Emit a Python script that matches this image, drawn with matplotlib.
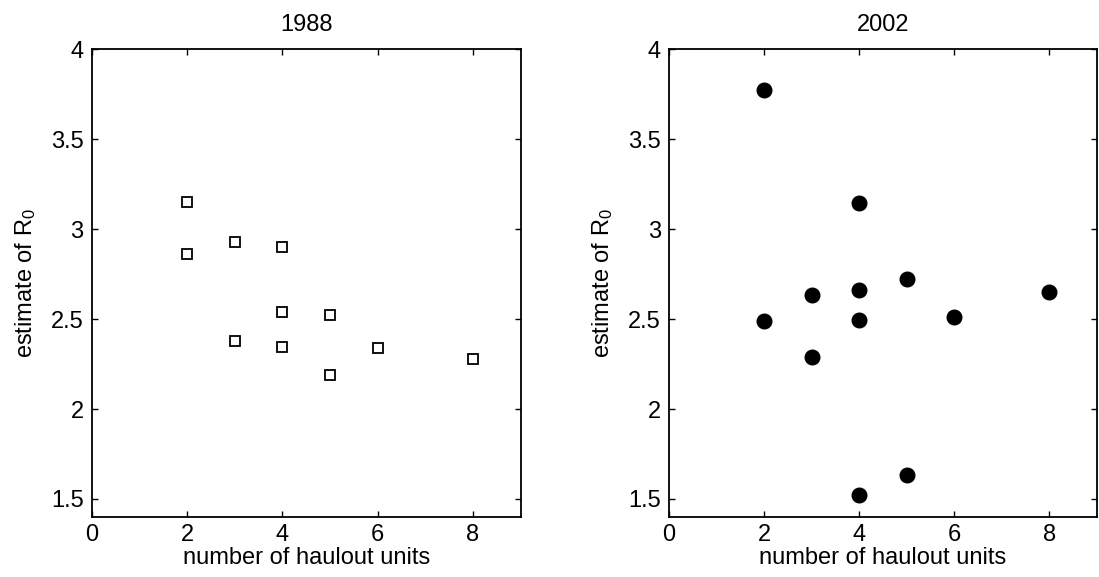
import matplotlib
matplotlib.use("Agg")
import matplotlib.pyplot as plt
from matplotlib.ticker import FuncFormatter

plt.rcParams['font.family'] = ['Liberation Sans', 'DejaVu Sans']
plt.rcParams['mathtext.fontset'] = 'custom'
plt.rcParams['mathtext.rm'] = 'Liberation Sans'
plt.rcParams['mathtext.it'] = 'Liberation Sans'

# 1988 data
x_1988 = [2, 2, 3, 3, 4, 4, 4, 5, 5, 6, 8]
r0_1988 = [3.15, 2.86, 2.93, 2.38, 2.90, 2.54, 2.345, 2.52, 2.19, 2.34, 2.28]

# 2002 data
x_2002 = [2, 2, 3, 3, 4, 4, 4, 4, 5, 5, 6, 8]
r0_2002 = [3.77, 2.49, 2.635, 2.29, 3.145, 2.66, 2.495, 1.52, 2.72, 1.635, 2.51, 2.65]

titles = ["1988", "2002"]
xticks = [0, 2, 4, 6, 8]
yticks = [1.5, 2, 2.5, 3, 3.5, 4]

fig = plt.figure(figsize=(10.99, 5.77), dpi=100)
ax1 = fig.add_axes([0.0837, 0.104, 0.390, 0.811])
ax2 = fig.add_axes([0.6088, 0.104, 0.389, 0.811])

ax1.plot(x_1988, r0_1988, linestyle='none', marker='s', markersize=7.5,
         markerfacecolor='white', markeredgecolor='black', markeredgewidth=1.3)
ax2.plot(x_2002, r0_2002, linestyle='none', marker='o', markersize=10.5,
         markerfacecolor='black', markeredgecolor='black')

fmt = FuncFormatter(lambda v, p: '%g' % v)
for ax, t in zip([ax1, ax2], titles):
    ax.set_xlim(0, 9)
    ax.set_ylim(1.4, 4)
    ax.set_xticks(xticks)
    ax.set_yticks(yticks)
    ax.yaxis.set_major_formatter(fmt)
    ax.tick_params(direction='in', top=True, right=True, length=4, width=1,
                   labelsize=17)
    ax.tick_params(axis='x', pad=5)
    ax.tick_params(axis='y', pad=6)
    for s in ax.spines.values():
        s.set_linewidth(1.3)
    ax.set_title(t, fontsize=17, pad=13)
    ax.set_xlabel('number of haulout units', fontsize=17, labelpad=1)
    ax.set_ylabel('estimate of R$_0$', fontsize=17, labelpad=9)

fig.savefig('out.png', dpi=100)
